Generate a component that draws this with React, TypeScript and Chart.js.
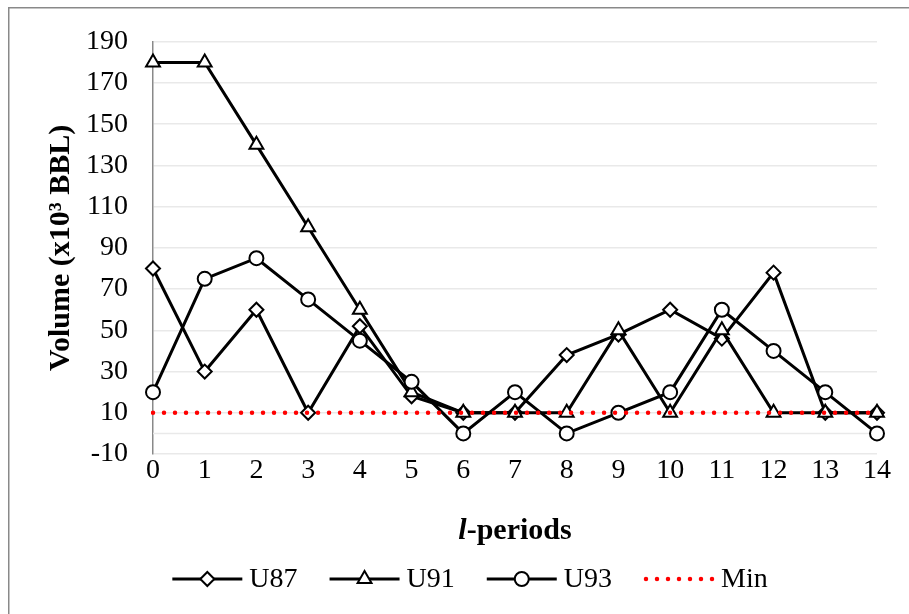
import { useEffect, useRef } from "react";
import { Chart, registerables } from "chart.js";

Chart.register(...registerables);

// l-periods on the horizontal axis
const periods = ["0", "1", "2", "3", "4", "5", "6", "7", "8", "9", "10", "11", "12", "13", "14"];

// Volume per period, x10^3 BBL
const u87 = [80, 30, 60, 10, 52, 18, 10, 10, 38, 48, 60, 46, 78, 10, 10];
const u91 = [180, 180, 140, 100, 60, 20, 10, 10, 10, 50, 10, 50, 10, 10, 10];
const u93 = [20, 75, 85, 65, 45, 25, 0, 20, 0, 10, 20, 60, 40, 20, 0];
const minLevel = [10, 10, 10, 10, 10, 10, 10, 10, 10, 10, 10, 10, 10, 10, 10];

// Value axis range
const Y_MIN = -10;
const Y_MAX = 190;
const Y_STEP = 20;

const SERIF = '"Liberation Serif", "Times New Roman", serif';
const GRID = "#e9e9e9";
const AXIS = "#898989";

type Marker = "diamond" | "triangle" | "circle" | "none";

function drawMarker(ctx: CanvasRenderingContext2D, kind: Marker, x: number, y: number) {
  ctx.save();
  ctx.fillStyle = "#ffffff";
  ctx.strokeStyle = "#000000";
  ctx.lineWidth = 2;
  ctx.beginPath();
  if (kind === "diamond") {
    const r = 7;
    ctx.moveTo(x - r, y);
    ctx.lineTo(x, y - r);
    ctx.lineTo(x + r, y);
    ctx.lineTo(x, y + r);
    ctx.closePath();
  } else if (kind === "triangle") {
    const r = 8;
    for (let i = 0; i < 3; i++) {
      const a = (i * 2 * Math.PI) / 3;
      const px = x + Math.sin(a) * r;
      const py = y - Math.cos(a) * r;
      if (i === 0) ctx.moveTo(px, py);
      else ctx.lineTo(px, py);
    }
    ctx.closePath();
  } else if (kind === "circle") {
    ctx.arc(x, y, 7, 0, Math.PI * 2);
  }
  ctx.fill();
  ctx.stroke();
  ctx.restore();
}

// White page with the grey outer frame
const framePlugin = {
  id: "frame",
  beforeDraw(chart: any) {
    const { ctx, width, height } = chart;
    ctx.save();
    ctx.fillStyle = "#ffffff";
    ctx.fillRect(0, 0, width, height);
    ctx.strokeStyle = AXIS;
    ctx.lineWidth = 1.5;
    ctx.beginPath();
    ctx.moveTo(8.75, height + 2);
    ctx.lineTo(8.75, 7.75);
    ctx.lineTo(width + 2, 7.75);
    ctx.stroke();
    ctx.restore();
  },
};

// Horizontal axis line where the value axis crosses zero
const zeroLinePlugin = {
  id: "zeroLine",
  beforeDatasetsDraw(chart: any) {
    const { ctx, chartArea, scales } = chart;
    const y = Math.round(scales.y.getPixelForValue(0)) + 0.5;
    ctx.save();
    ctx.strokeStyle = GRID;
    ctx.lineWidth = 1.5;
    ctx.beginPath();
    ctx.moveTo(chartArea.left, y);
    ctx.lineTo(chartArea.right, y);
    ctx.stroke();
    ctx.restore();
  },
};

// "l-periods" axis title with an italic l
const xTitlePlugin = {
  id: "xTitle",
  afterDraw(chart: any) {
    const { ctx, chartArea } = chart;
    const cx = (chartArea.left + chartArea.right) / 2;
    const y = 539;
    const italic = `italic bold 30px ${SERIF}`;
    const bold = `bold 30px ${SERIF}`;
    ctx.save();
    ctx.fillStyle = "#000000";
    ctx.textBaseline = "alphabetic";
    ctx.textAlign = "left";
    ctx.font = italic;
    const w1 = ctx.measureText("l").width;
    ctx.font = bold;
    const w2 = ctx.measureText("-periods").width;
    let x = cx - (w1 + w2) / 2;
    ctx.font = italic;
    ctx.fillText("l", x, y);
    x += w1;
    ctx.font = bold;
    ctx.fillText("-periods", x, y);
    ctx.restore();
  },
};

// Legend: line sample with its marker, then the series name
const legendPlugin = {
  id: "lineLegend",
  afterDraw(chart: any) {
    const { ctx } = chart;
    const sampleW = 70;
    const textGap = 7;
    const itemGap = 32;
    const y = 579;
    const font = `28px ${SERIF}`;
    ctx.save();
    ctx.font = font;
    const items = chart.data.datasets.map((ds: any) => ({
      label: ds.label as string,
      marker: (ds.legendMarker || "none") as Marker,
      dotted: !!ds.borderDash && ds.borderDash.length > 0,
      color: ds.borderColor as string,
      textW: ctx.measureText(ds.label).width,
    }));
    const total =
      items.reduce((s: number, it: any) => s + sampleW + textGap + it.textW, 0) +
      itemGap * (items.length - 1);
    let x = 470 - total / 2;
    for (const it of items) {
      ctx.save();
      ctx.strokeStyle = it.color;
      if (it.dotted) {
        ctx.lineWidth = 4.5;
        ctx.lineCap = "round";
        ctx.setLineDash([0.001, 11]);
        ctx.beginPath();
        ctx.moveTo(x + 2, y);
        ctx.lineTo(x + sampleW, y);
        ctx.stroke();
      } else {
        ctx.lineWidth = 3;
        ctx.beginPath();
        ctx.moveTo(x, y);
        ctx.lineTo(x + sampleW, y);
        ctx.stroke();
      }
      ctx.restore();
      if (!it.dotted) drawMarker(ctx, it.marker, x + sampleW / 2, y);
      ctx.fillStyle = "#000000";
      ctx.textBaseline = "alphabetic";
      ctx.textAlign = "left";
      ctx.fillText(it.label, x + sampleW + textGap, 587);
      x += sampleW + textGap + it.textW + itemGap;
    }
    ctx.restore();
  },
};

function seriesStyle(marker: Marker, style: string, radius: number) {
  return {
    borderColor: "#000000",
    backgroundColor: "#000000",
    borderWidth: 3,
    pointStyle: style,
    pointRadius: radius,
    pointHoverRadius: radius,
    pointBackgroundColor: "#ffffff",
    pointBorderColor: "#000000",
    pointBorderWidth: 2,
    tension: 0,
    legendMarker: marker,
  };
}

export default function App() {
  const canvasRef = useRef<HTMLCanvasElement | null>(null);

  useEffect(() => {
    const canvas = canvasRef.current;
    if (!canvas) return;
    const chart = new Chart(canvas, {
      type: "line",
      data: {
        labels: periods,
        datasets: [
          { label: "U87", data: u87, order: 4, ...seriesStyle("diamond", "rectRot", 7) },
          { label: "U91", data: u91, order: 3, ...seriesStyle("triangle", "triangle", 8) },
          { label: "U93", data: u93, order: 2, ...seriesStyle("circle", "circle", 7) },
          {
            label: "Min",
            data: minLevel,
            order: 1,
            borderColor: "#ff0000",
            backgroundColor: "#ff0000",
            borderWidth: 4.5,
            borderDash: [0.001, 11],
            borderCapStyle: "round",
            pointRadius: 0,
            pointHoverRadius: 0,
            tension: 0,
          } as any,
        ],
      },
      options: {
        responsive: false,
        animation: false,
        events: [],
        layout: { padding: { left: 0, top: 37, right: 32, bottom: 0 } },
        plugins: {
          legend: { display: false },
          tooltip: { enabled: false },
          title: { display: false },
        },
        scales: {
          x: {
            type: "category",
            offset: false,
            grid: { display: false, drawTicks: false },
            border: { display: false },
            ticks: {
              color: "#000000",
              font: { family: SERIF, size: 28 },
              padding: 0,
              maxRotation: 0,
              autoSkip: false,
            },
            afterFit: (s: any) => {
              s.height = 160;
            },
          },
          y: {
            type: "linear",
            min: Y_MIN,
            max: Y_MAX,
            grid: { color: GRID, lineWidth: 1.5, drawTicks: false },
            border: { display: true, color: AXIS, width: 1.5 },
            ticks: {
              stepSize: Y_STEP,
              color: "#000000",
              font: { family: SERIF, size: 28 },
              padding: 25,
            },
            title: {
              display: true,
              text: "Volume (x10³ BBL)",
              color: "#000000",
              font: { family: SERIF, size: 30, weight: "bold" },
              padding: { top: 43, bottom: 0 },
            },
            afterFit: (s: any) => {
              s.width = 153;
            },
          },
        },
      } as any,
      plugins: [framePlugin, zeroLinePlugin, xTitlePlugin, legendPlugin],
    });
    return () => chart.destroy();
  }, []);

  return (
    <div style={{ position: "absolute", left: 0, top: 0, width: 909, height: 614 }}>
      <canvas ref={canvasRef} width={909} height={614} style={{ display: "block" }} />
    </div>
  );
}
